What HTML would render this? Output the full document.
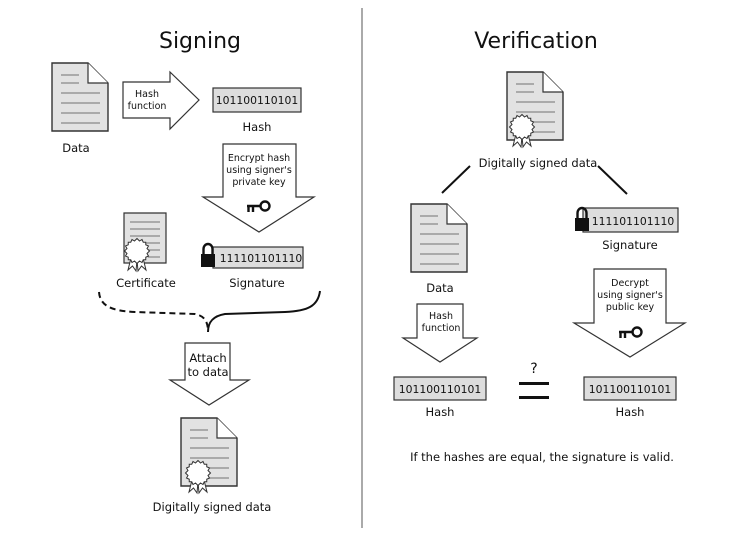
<!DOCTYPE html>
<html><head><meta charset="utf-8"><style>
html,body{margin:0;padding:0;background:#fff;}
svg{display:block;font-family:"DejaVu Sans","Liberation Sans",sans-serif;}
.t{font-size:11.5px;fill:#111;text-anchor:middle;}
.b{font-size:10.8px;fill:#111;text-anchor:middle;}
.s{font-size:9.5px;fill:#111;text-anchor:middle;}
</style></head><body>
<svg width="746" height="539" viewBox="0 0 746 539" xmlns="http://www.w3.org/2000/svg">
<defs>
<g id="doc">
<path d="M0,0 H36 L56,20 V68 H0 Z" fill="#e2e2e2" stroke="#333" stroke-width="1.4"/>
<path d="M36,0 V20 H56" fill="#fff" stroke="#333" stroke-width="1.2"/>
<g stroke="#888" stroke-width="1.3">
<line x1="9" y1="12" x2="27" y2="12"/><line x1="9" y1="20" x2="27" y2="20"/>
<line x1="9" y1="30" x2="48" y2="30"/><line x1="9" y1="40" x2="48" y2="40"/>
<line x1="9" y1="50" x2="48" y2="50"/><line x1="9" y1="60" x2="48" y2="60"/>
</g></g>
<g id="seal">
<path d="M-6,7 L-9,19 L-4.5,15 L-1,20 L0,9 M6,7 L9,19 L4.5,15 L1,20 L0,9" fill="#fff" stroke="#333" stroke-width="1"/>
<g transform="scale(1.25)">
<polygon points="0,-10 2,-8 4,-9.2 5,-7 7,-7 7,-5 9.2,-4 8,-2 10,0 8,2 9.2,4 7,5 7,7 5,7 4,9.2 2,8 0,10 -2,8 -4,9.2 -5,7 -7,7 -7,5 -9.2,4 -8,2 -10,0 -8,-2 -9.2,-4 -7,-5 -7,-7 -5,-7 -4,-9.2 -2,-8" fill="#fff" stroke="#333" stroke-width="0.8"/>
</g></g>
<g id="key">
<circle cx="7" cy="0" r="4.5" fill="none" stroke="#111" stroke-width="2.4"/>
<path d="M2.5,0 H-11 M-9.5,0 V6 M-5,0 V6" stroke="#111" stroke-width="2.4" fill="none"/>
</g>
<g id="lock">
<path d="M-4.5,0 V-5 A4.5,5 0 0 1 4.5,-5 V0" fill="none" stroke="#111" stroke-width="2.4"/>
<rect x="-7" y="0" width="14" height="13" fill="#111"/>
</g>
</defs>

<line x1="362" y1="8" x2="362" y2="528" stroke="#555" stroke-width="1"/>
<text x="200" y="48" style="font-size:22px;text-anchor:middle;fill:#111">Signing</text>
<text x="536" y="48" style="font-size:22px;text-anchor:middle;fill:#111">Verification</text>

<!-- LEFT -->
<use href="#doc" x="52" y="63"/>
<text class="t" x="76" y="152">Data</text>
<path d="M123,82 H170 V72 L199,100 L170,129 V118 H123 Z" fill="#fff" stroke="#333" stroke-width="1.2"/>
<text class="s" x="147" y="97">Hash</text><text class="s" x="147" y="109">function</text>
<rect x="213" y="88" width="88" height="24" fill="#ddd" stroke="#333" stroke-width="1.2"/>
<text class="b" x="257" y="104">101100110101</text>
<text class="t" x="257" y="131">Hash</text>
<path d="M223,144 H296 V197 H314 L259,232 L203,197 H223 Z" fill="#fff" stroke="#333" stroke-width="1.2"/>
<text class="s" x="259" y="161">Encrypt hash</text><text class="s" x="259" y="173">using signer's</text><text class="s" x="259" y="185">private key</text>
<use href="#key" x="258" y="206"/>
<path d="M124,213 H166 V263 H124 Z" fill="#e2e2e2" stroke="#333" stroke-width="1.2"/>
<g stroke="#888" stroke-width="1.2"><line x1="130" y1="222" x2="160" y2="222"/><line x1="130" y1="229" x2="160" y2="229"/><line x1="130" y1="236" x2="160" y2="236"/><line x1="130" y1="243" x2="160" y2="243"/><line x1="148" y1="250" x2="160" y2="250"/><line x1="148" y1="257" x2="160" y2="257"/></g>
<use href="#seal" x="137" y="251"/>
<text class="t" x="146" y="287">Certificate</text>
<rect x="213" y="247" width="90" height="21" fill="#ddd" stroke="#333" stroke-width="1.2"/>
<use href="#lock" x="208" y="254"/>
<text class="b" x="261" y="262">111101101110</text>
<text class="t" x="257" y="287">Signature</text>
<path d="M99,292 C100,305 110,311 135,312 L195,314 C205,316 208,322 208,332" fill="none" stroke="#111" stroke-width="2" stroke-dasharray="6,4"/>
<path d="M320,291 C318,306 308,311 285,312 L225,314 C213,316 208,322 208,332" fill="none" stroke="#111" stroke-width="2"/>
<path d="M185,343 H230 V380 H249 L209,405 L170,380 H185 Z" fill="#fff" stroke="#333" stroke-width="1.2"/>
<text class="t" x="208" y="362">Attach</text><text class="t" x="208" y="376">to data</text>
<use href="#doc" x="181" y="418"/>
<use href="#seal" x="198" y="473"/>
<text class="t" x="212" y="511">Digitally signed data</text>

<!-- RIGHT -->
<use href="#doc" x="507" y="72"/>
<use href="#seal" x="522" y="127"/>
<text class="t" x="538" y="167">Digitally signed data</text>
<line x1="470" y1="166" x2="442" y2="193" stroke="#111" stroke-width="2"/>
<line x1="598" y1="166" x2="627" y2="194" stroke="#111" stroke-width="2"/>
<use href="#doc" x="411" y="204"/>
<text class="t" x="440" y="292">Data</text>
<path d="M417,304 H463 V338 H477 L440,362 L403,338 H417 Z" fill="#fff" stroke="#333" stroke-width="1.2"/>
<text class="s" x="441" y="319">Hash</text><text class="s" x="441" y="331">function</text>
<rect x="394" y="377" width="92" height="23" fill="#ddd" stroke="#333" stroke-width="1.2"/>
<text class="b" x="440" y="393">101100110101</text>
<text class="t" x="440" y="416">Hash</text>
<text class="t" x="534" y="373" style="font-size:14px">?</text>
<rect x="519" y="382" width="30" height="3" fill="#111"/>
<rect x="519" y="396" width="30" height="3" fill="#111"/>
<rect x="583" y="208" width="95" height="24" fill="#ddd" stroke="#333" stroke-width="1.2"/>
<use href="#lock" x="582" y="218"/>
<text class="b" x="633" y="225">111101101110</text>
<text class="t" x="630" y="249">Signature</text>
<path d="M594,269 H666 V323 H685 L630,357 L574,323 H594 Z" fill="#fff" stroke="#333" stroke-width="1.2"/>
<text class="s" x="630" y="286">Decrypt</text><text class="s" x="630" y="298">using signer's</text><text class="s" x="630" y="310">public key</text>
<use href="#key" x="630" y="332"/>
<rect x="584" y="377" width="92" height="23" fill="#ddd" stroke="#333" stroke-width="1.2"/>
<text class="b" x="630" y="393">101100110101</text>
<text class="t" x="630" y="416">Hash</text>
<text class="t" x="542" y="461">If the hashes are equal, the signature is valid.</text>
</svg>
</body></html>
